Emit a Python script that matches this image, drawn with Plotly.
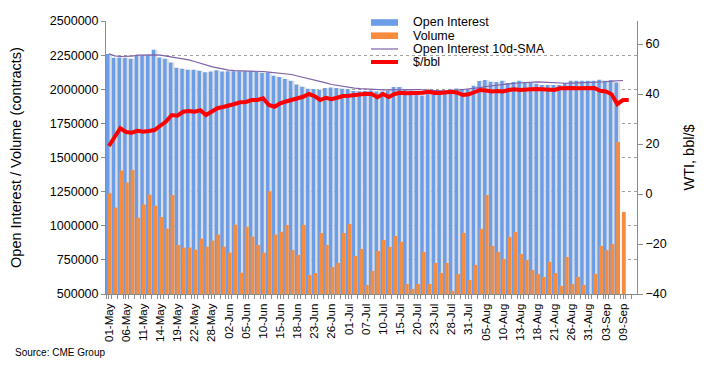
import plotly.graph_objects as go

dates = [
    "01-May", "04-May", "05-May", "06-May", "07-May", "08-May", "11-May", "12-May", "13-May", "14-May",
    "15-May", "18-May", "19-May", "20-May", "21-May", "22-May", "26-May", "27-May", "28-May", "29-May",
    "01-Jun", "02-Jun", "03-Jun", "04-Jun", "05-Jun", "08-Jun", "09-Jun", "10-Jun", "11-Jun", "12-Jun",
    "15-Jun", "16-Jun", "17-Jun", "18-Jun", "19-Jun", "22-Jun", "23-Jun", "24-Jun", "25-Jun", "26-Jun",
    "29-Jun", "30-Jun", "01-Jul", "02-Jul", "06-Jul", "07-Jul", "08-Jul", "09-Jul", "10-Jul", "13-Jul",
    "14-Jul", "15-Jul", "16-Jul", "17-Jul", "20-Jul", "21-Jul", "22-Jul", "23-Jul", "24-Jul", "27-Jul",
    "28-Jul", "29-Jul", "30-Jul", "31-Jul", "03-Aug", "04-Aug", "05-Aug", "06-Aug", "07-Aug", "10-Aug",
    "11-Aug", "12-Aug", "13-Aug", "14-Aug", "17-Aug", "18-Aug", "19-Aug", "20-Aug", "21-Aug", "24-Aug",
    "25-Aug", "26-Aug", "27-Aug", "28-Aug", "31-Aug", "01-Sep", "02-Sep", "03-Sep", "04-Sep", "08-Sep",
    "09-Sep", "10-Sep",
]

open_interest = [
    2259000, 2230000, 2232000, 2230000, 2223000, 2247000, 2247000, 2247000, 2289000, 2233000,
    2223000, 2196000, 2157000, 2150000, 2142000, 2142000, 2135000, 2125000, 2130000, 2140000,
    2130000, 2132000, 2132000, 2132000, 2132000, 2132000, 2130000, 2120000, 2122000, 2098000,
    2089000, 2076000, 2062000, 2035000, 2018000, 2004000, 2001000, 1996000, 2009000, 2012000,
    2009000, 2004000, 1998000, 1988000, 1985000, 1988000, 1990000, 1983000, 1983000, 1990000,
    2016000, 2016000, 1996000, 1990000, 1985000, 1955000, 1965000, 1962000, 1962000, 1980000,
    1998000, 2005000, 2000000, 2000000, 2025000, 2060000, 2068000, 2055000, 2054000, 2062000,
    2045000, 2054000, 2062000, 2054000, 2050000, 2040000, 2032000, 2032000, 2032000, 2032000,
    2045000, 2062000, 2062000, 2062000, 2062000, 2062000, 2069000, 2062000, 2066000, 2050000,
    None, None,
]

volume = [
    1238000, 1133000, 1404000, 1316000, 1409000, 1059000, 1155000, 1228000, 1147000, 1064000,
    979000, 1226000, 859000, 840000, 840000, 825000, 905000, 847000, 891000, 935000,
    847000, 803000, 1008000, 656000, 993000, 920000, 859000, 803000, 1253000, 935000,
    955000, 1006000, 822000, 786000, 1006000, 639000, 654000, 947000, 859000, 698000,
    727000, 947000, 1013000, 779000, 830000, 566000, 669000, 815000, 896000, 845000,
    925000, 883000, 573000, 537000, 573000, 808000, 573000, 727000, 654000, 727000,
    522000, 647000, 947000, 603000, 713000, 977000, 1226000, 852000, 808000, 757000,
    918000, 955000, 793000, 749000, 676000, 647000, 625000, 735000, 654000, 559000,
    771000, 573000, 625000, 566000, 480000, 647000, 852000, 822000, 867000, 1614000,
    1101000, None,
]

oi_sma10 = [
    2259000, 2245000, 2240000, 2240000, 2242000, 2250000, 2252000, 2252000, 2252000, 2250000,
    2244000, 2238000, 2232000, 2225000, 2215000, 2203000, 2190000, 2178000, 2166000, 2157000,
    2148000, 2140000, 2136000, 2135000, 2135000, 2135000, 2134000, 2130000, 2126000, 2122000,
    2118000, 2117000, 2108000, 2097000, 2088000, 2078000, 2066000, 2057000, 2047000, 2035000,
    2027000, 2020000, 2013000, 2008000, 2004000, 2001000, 1999000, 1997000, 1996000, 1995000,
    1996000, 1997000, 1998000, 1999000, 1998000, 1995000, 1992000, 1990000, 1988000, 1989000,
    1990000, 1993000, 1998000, 2002000, 2006000, 2012000, 2020000, 2026000, 2031000, 2035000,
    2040000, 2044000, 2047000, 2051000, 2053000, 2054000, 2052000, 2049000, 2047000, 2045000,
    2044000, 2045000, 2046000, 2047000, 2048000, 2048000, 2050000, 2055000, 2060000, 2063000,
    2064000, None,
]

wti_price = [
    19.2, 22.6, 26.3, 24.8, 24.5, 25.3, 24.9, 25.2, 25.6, 27.3,
    29.0, 31.6, 31.3, 32.9, 33.2, 32.9, 33.5, 31.6, 33.0, 34.3,
    34.8, 35.6, 36.0, 36.7, 36.8, 37.6, 37.6, 38.3, 35.6, 34.9,
    36.3, 37.0, 37.6, 38.1, 38.9, 40.0, 39.2, 37.6, 38.5, 37.9,
    38.7, 39.2, 39.3, 39.7, 40.0, 40.1, 40.0, 38.7, 40.0, 38.8,
    40.0, 40.5, 40.3, 40.3, 40.3, 40.5, 40.9, 40.4, 40.4, 40.8,
    40.9, 40.5, 39.6, 39.9, 40.9, 41.6, 41.4, 41.0, 41.2, 41.0,
    41.6, 41.9, 41.6, 41.9, 41.9, 42.0, 41.9, 41.8, 41.6, 42.3,
    42.5, 42.4, 42.3, 42.3, 42.3, 42.4, 41.3, 41.0, 39.9, 36.0,
    37.6, 37.6,
]

series_names = ["Open Interest", "Volume", "Open Interest 10d-SMA", "$/bbl"]
left_ticks = [500000, 750000, 1000000, 1250000, 1500000, 1750000, 2000000, 2250000, 2500000]
right_ticks = [-40, -20, 0, 20, 40, 60]

xpos = list(range(len(dates)))
label_idx = xpos[::3]
label_txt = dates[::3]

FONT = "Liberation Sans, Arial, sans-serif"
AXIS_COL = "#8c8c8c"
C_OI, C_VOL, C_SMA, C_PX = "#6b9de8", "#f68c3e", "#7f62a8", "#ff0000"

# figure geometry (pixels)
W, H = 704, 369
ML, MR, MT, MB = 106, 67, 21, 75
PW, PH = W - ML - MR, H - MT - MB


def px_x(px):
    return (px - ML) / PW


def px_y(py):
    return (H - MB - py) / PH


fig = go.Figure()

# light grey shadow strip next to each open-interest bar
fig.add_trace(go.Bar(
    x=xpos, y=open_interest, offset=0.05, width=0.45,
    marker=dict(color="#dedede", line=dict(width=0)),
    showlegend=False, hoverinfo="skip",
))
fig.add_trace(go.Bar(
    x=xpos, y=open_interest, name=series_names[0], offset=-0.5, width=0.62,
    marker=dict(color=C_OI, line=dict(width=0)), showlegend=False,
))
fig.add_trace(go.Bar(
    x=xpos, y=volume, name=series_names[1], offset=-0.2, width=0.68,
    marker=dict(color=C_VOL, line=dict(width=0)), showlegend=False,
))
fig.add_trace(go.Scatter(
    x=xpos, y=oi_sma10, name=series_names[2], mode="lines",
    line=dict(color=C_SMA, width=1.2), showlegend=False,
))
fig.add_trace(go.Scatter(
    x=xpos, y=wti_price, name=series_names[3], mode="lines", yaxis="y2",
    line=dict(color=C_PX, width=4), showlegend=False,
))

# compact legend (keys + real text labels)
rows_y = [22.5, 35.7, 49.0, 62.0]
key_x0, key_x1, text_x = 371, 398, 411
shapes = []
annotations = []
for k, (name, ry) in enumerate(zip(series_names, rows_y)):
    if k < 2:
        shapes.append(dict(type="rect", xref="paper", yref="paper",
                           x0=px_x(key_x0), x1=px_x(key_x1),
                           y0=px_y(ry + 3.3), y1=px_y(ry - 3.3),
                           fillcolor=[C_OI, C_VOL][k], line=dict(width=0)))
    else:
        shapes.append(dict(type="line", xref="paper", yref="paper",
                           x0=px_x(key_x0), x1=px_x(key_x1),
                           y0=px_y(ry), y1=px_y(ry),
                           line=dict(color=[C_SMA, C_PX][k - 2], width=[1.2, 4][k - 2])))
    annotations.append(dict(text=name, xref="paper", yref="paper",
                            x=px_x(text_x), y=px_y(ry), xanchor="left", yanchor="middle",
                            showarrow=False, font=dict(size=12.5, family=FONT, color="#000")))

annotations.append(dict(text="Source: CME Group", xref="paper", yref="paper",
                        x=px_x(13), y=px_y(352), xanchor="left", yanchor="middle",
                        showarrow=False, font=dict(size=10, family=FONT, color="#000")))

fig.update_layout(
    width=W, height=H,
    margin=dict(l=ML, r=MR, t=MT, b=MB, autoexpand=False),
    paper_bgcolor="white", plot_bgcolor="white",
    barmode="overlay",
    font=dict(family=FONT, size=12, color="#000000"),
    showlegend=False,
    shapes=shapes,
    annotations=annotations,
    xaxis=dict(
        range=[-0.5, 92.45], automargin=False,
        tickmode="array", tickvals=label_idx, ticktext=label_txt,
        tickangle=-90, tickfont=dict(size=11.5),
        ticks="outside", ticklen=4, tickcolor=AXIS_COL,
        minor=dict(dtick=1, tick0=0.5, ticks="outside", ticklen=4, tickcolor=AXIS_COL),
        showline=True, linecolor=AXIS_COL, linewidth=1,
        showgrid=False, zeroline=False,
    ),
    yaxis=dict(
        range=[500000, 2500000], automargin=False,
        tickmode="array", tickvals=left_ticks, tickformat="d",
        tickfont=dict(size=12.5),
        ticks="outside", ticklen=4, tickcolor=AXIS_COL,
        showline=True, linecolor=AXIS_COL, linewidth=1,
        showgrid=True, gridcolor="#a0a0a0", griddash="dot", gridwidth=1,
        zeroline=False,
        title=dict(text="Open Interest / Volume (contracts)", font=dict(size=14.5), standoff=24),
    ),
    yaxis2=dict(
        overlaying="y", side="right", automargin=False,
        range=[-40, 69.2],
        tickmode="array", tickvals=right_ticks,
        tickfont=dict(size=12.5),
        ticks="outside", ticklen=5, tickcolor=AXIS_COL,
        showline=True, linecolor=AXIS_COL, linewidth=1,
        showgrid=False, zeroline=False,
        title=dict(text="WTI, bbl/$", font=dict(size=14.5), standoff=18),
    ),
)

fig.write_html(
    "out.html",
    config={"displayModeBar": False, "staticPlot": True},
    post_script="document.body.style.margin='0';",
)
